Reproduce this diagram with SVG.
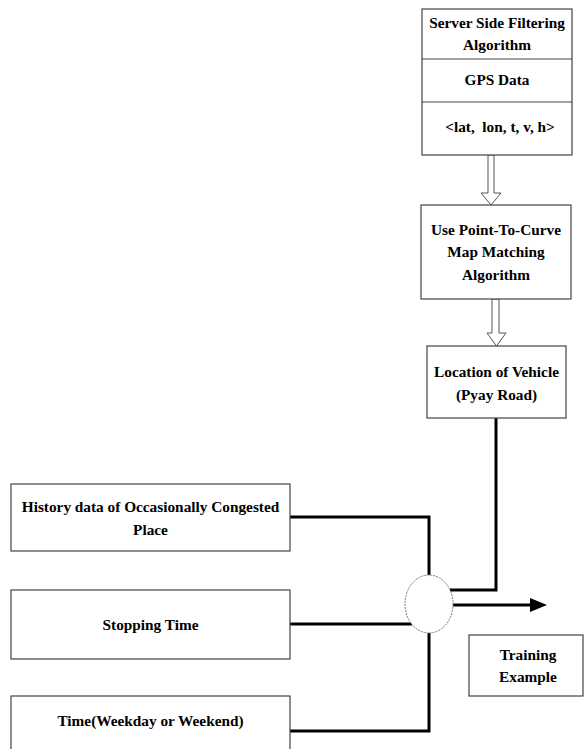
<svg xmlns="http://www.w3.org/2000/svg" width="584" height="749" viewBox="0 0 584 749">
<style>
.box{fill:#fff;stroke:#444;stroke-width:1.2}
.t{font-family:'Liberation Serif','Times New Roman','DejaVu Serif',serif;font-weight:700;font-size:15.3px;fill:#000;text-anchor:middle}
.hollow{fill:#fff;stroke:#555;stroke-width:1}
.wire{fill:none;stroke:#000;stroke-width:3}
</style>
<rect width="584" height="749" fill="#fff"/>
<g id="connectors">
<polygon class="hollow" points="488,155 494,155 494,193 501,193 491,205 481,193 488,193"/>
<polygon class="hollow" points="492,299 499,299 499,333 506,333 496.5,346 487,333 492,333"/>
<polyline class="wire" points="290,517 429,517 429,575"/>
<polyline class="wire" points="290,624 412,624"/>
<polyline class="wire" points="290,731 429,731 429,633"/>
<polyline class="wire" points="496,418 496,590 450,590"/>
<polyline class="wire" points="453,605 532,605"/>
<polygon points="530,598 547,605 530,612" fill="#000"/>
</g>
<g id="server-filtering">
<rect class="box" x="422" y="9" width="150" height="146"/>
<line x1="422" y1="59" x2="572" y2="59" stroke="#444" stroke-width="1.2"/>
<line x1="422" y1="102" x2="572" y2="102" stroke="#444" stroke-width="1.2"/>
<text class="t" x="497" y="28">Server Side Filtering</text>
<text class="t" x="497" y="50">Algorithm</text>
<text class="t" x="497" y="85">GPS Data</text>
<text class="t" x="500" y="132" xml:space="preserve">&lt;lat,  lon, t, v, h&gt;</text>
</g>
<g id="map-matching">
<rect class="box" x="421" y="205" width="150" height="94"/>
<text class="t" x="496" y="235">Use Point-To-Curve</text>
<text class="t" x="496" y="257">Map Matching</text>
<text class="t" x="496" y="280">Algorithm</text>
</g>
<g id="location">
<rect class="box" x="427" y="346" width="139" height="72"/>
<text class="t" x="496.5" y="377">Location of Vehicle</text>
<text class="t" x="496.5" y="400">(Pyay Road)</text>
</g>
<g id="history">
<rect class="box" x="11" y="484" width="279" height="67"/>
<text class="t" x="150.5" y="512">History data of Occasionally Congested</text>
<text class="t" x="150.5" y="535">Place</text>
</g>
<g id="stopping">
<rect class="box" x="11" y="590" width="279" height="69"/>
<text class="t" x="150.5" y="630">Stopping Time</text>
</g>
<g id="time">
<rect class="box" x="11" y="696" width="279" height="60"/>
<text class="t" x="150.5" y="726">Time(Weekday or Weekend)</text>
</g>
<g id="combiner">
<ellipse cx="429" cy="604" rx="24" ry="29" fill="#fff" stroke="#777" stroke-width="1" stroke-dasharray="2 1"/>
</g>
<g id="training">
<rect class="box" x="469" y="635" width="114" height="61"/>
<text class="t" x="528" y="660">Training</text>
<text class="t" x="528" y="682">Example</text>
</g>
</svg>
